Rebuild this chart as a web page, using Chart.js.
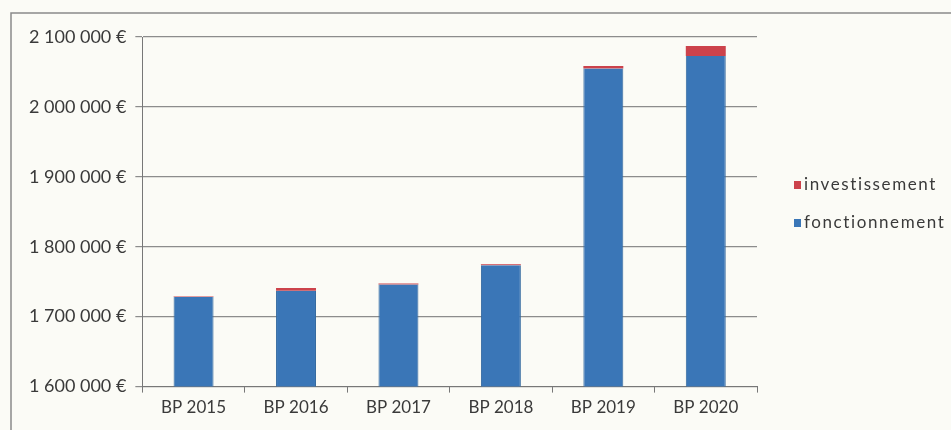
<!DOCTYPE html>
<html lang="fr">
<head>
<meta charset="UTF-8">
<title>Budget primitif 2015 - 2020</title>
<script src="https://cdn.jsdelivr.net/npm/chart.js"></script>
<style>
    html, body { margin: 0; padding: 0; background: #fbfbf6; }
    #wrap { width: 951px; height: 430px; position: relative; }
</style>
</head>
<body>
<div id="wrap"><canvas id="budgetChart"></canvas></div>
<script>
    // Données
    const annees = ['BP 2015', 'BP 2016', 'BP 2017', 'BP 2018', 'BP 2019', 'BP 2020'];
    const fonctionnement = [1728000, 1737000, 1746000, 1773500, 2055000, 2073000];
    const investissement = [1000, 4000, 1500, 1500, 3500, 14000];
    const axeMin = 1600000;
    const axeMax = 2100000;
    const pas = 100000;

    const police = "Lato, 'Open Sans', sans-serif";
    const gris = '#3a3a3a';

    // "2 100 000 €"
    function euros(v) {
        return String(Math.round(v)).replace(/\B(?=(\d{3})+(?!\d))/g, ' ') + ' €';
    }

    // Cadre autour du graphique
    const cadre = {
        id: 'cadre',
        beforeDraw(chart) {
            const c = chart.ctx;
            c.save();
            c.fillStyle = '#fbfbf6';
            c.fillRect(0, 0, chart.width, chart.height);
            c.strokeStyle = '#8a8a8a';
            c.lineWidth = 1.5;
            c.beginPath();
            c.moveTo(11, chart.height);
            c.lineTo(11, 13);
            c.lineTo(chart.width, 13);
            c.stroke();
            c.restore();
        }
    };

    // Légende à droite, dans l'ordre inverse des séries
    const legende = {
        id: 'legende',
        afterDraw(chart) {
            const c = chart.ctx;
            const x = chart.chartArea.right + 37;
            const y0 = 185;
            const ecart = 38;
            c.save();
            c.font = '17px ' + police;
            c.letterSpacing = '1.6px';
            c.textBaseline = 'middle';
            chart.data.datasets.slice().reverse().forEach((ds, i) => {
                const y = y0 + i * ecart;
                c.fillStyle = ds.backgroundColor;
                c.fillRect(x, y - 4, 7, 8);
                c.fillStyle = gris;
                c.fillText(ds.label, x + 10, y);
            });
            c.restore();
        }
    };

    const ctx = document.getElementById('budgetChart').getContext('2d');
    const chart = new Chart(ctx, {
        type: 'bar',
        data: {
            labels: annees,
            datasets: [{
                label: 'fonctionnement',
                data: fonctionnement,
                backgroundColor: '#3a76b7',
                borderColor: '#33699f',
                borderWidth: { left: 1, right: 1 },
                borderSkipped: false,
                barPercentage: 0.39,
                categoryPercentage: 1
            }, {
                label: 'investissement',
                data: investissement,
                backgroundColor: '#cc424b',
                borderWidth: 0,
                barPercentage: 0.39,
                categoryPercentage: 1
            }]
        },
        options: {
            responsive: true,
            maintainAspectRatio: false,
            animation: false,
            layout: { padding: { left: 20, top: 37, right: 194, bottom: 7 } },
            plugins: {
                legend: { display: false },
                tooltip: { enabled: false }
            },
            scales: {
                x: {
                    stacked: true,
                    grid: {
                        drawOnChartArea: false,
                        drawTicks: true,
                        tickLength: 6,
                        color: '#777'
                    },
                    border: { color: '#777', width: 1 },
                    ticks: {
                        color: gris,
                        padding: 5,
                        font: { family: police, size: 17 }
                    }
                },
                y: {
                    stacked: true,
                    min: axeMin,
                    max: axeMax,
                    grid: {
                        color: '#8c8c8c',
                        lineWidth: 1.2,
                        tickLength: 7
                    },
                    border: { color: '#777', width: 1 },
                    ticks: {
                        stepSize: pas,
                        color: gris,
                        padding: 9,
                        font: { family: police, size: 18 },
                        callback: v => euros(v)
                    }
                }
            }
        },
        plugins: [cadre, legende]
    });
</script>
</body>
</html>
